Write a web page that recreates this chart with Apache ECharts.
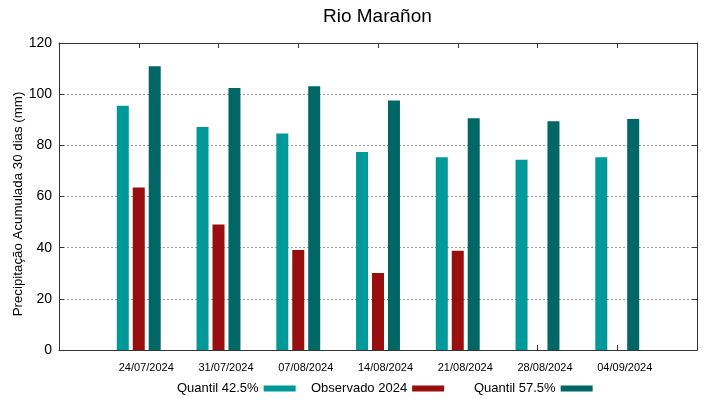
<!DOCTYPE html>
<html>
<head>
<meta charset="utf-8">
<script src="https://cdn.jsdelivr.net/npm/echarts@6/dist/echarts.min.js"></script>
<style>
  html, body { margin: 0; padding: 0; background: #fff; }
  #chart { width: 719px; height: 399px; }
</style>
</head>
<body>
<div id="chart"></div>
<script>
// datas (empty slots on both ends leave the gap gnuplot puts there)
const dates = ['', '24/07/2024', '31/07/2024', '07/08/2024', '14/08/2024', '21/08/2024', '28/08/2024', '04/09/2024', ''];
const quantil425 = [null, 95.5, 87.2, 84.6, 77.4, 75.3, 74.4, 75.3, null];
const observado = [null, 63.5, 49.1, 39.1, 30.1, 38.8, null, null, null];
const quantil575 = [null, 110.9, 102.4, 103.1, 97.5, 90.6, 89.4, 90.3, null];
const yTicks = [0, 20, 40, 60, 80, 100, 120];
const names = ['Quantil 42.5%', 'Observado 2024', 'Quantil 57.5%'];

const font = 'Liberation Sans';
const chart = echarts.init(document.getElementById('chart'));

const tickInside = { show: true, inside: true, length: 5, lineStyle: { color: '#333' } };
const frameLine = { show: true, onZero: false, lineStyle: { color: '#333', width: 1 } };

// gnuplot puts the legend entries in fixed columns
const legendAt = (name, x) => ({
    data: [name],
    left: x,
    top: 377,
    align: 'right',
    icon: 'rect',
    itemWidth: 32,
    itemHeight: 6,
    textStyle: { fontFamily: font, fontSize: 13, color: '#000' }
});

chart.setOption({
    animation: false,
    textStyle: { fontFamily: font },
    title: {
        text: 'Rio Marañon',
        left: 318,
        top: 2,
        textStyle: { fontFamily: font, fontSize: 19, fontWeight: 'normal', color: '#000' }
    },
    grid: { left: 59, right: 22, top: 43, bottom: 49, outerBoundsMode: 'none' },
    legend: [
        legendAt(names[0], 172),
        legendAt(names[1], 306),
        legendAt(names[2], 469)
    ],
    xAxis: [
        {
            type: 'category',
            data: dates,
            boundaryGap: false,
            axisLine: frameLine,
            axisTick: Object.assign({ interval: 0 }, tickInside),
            // labels sit a bit right of the tick, like in the original
            axisLabel: { interval: 0, fontSize: 11, color: '#000', margin: 12, padding: [0, 0, 0, 15] },
            splitLine: { show: false }
        },
        {
            type: 'category',
            data: dates,
            position: 'top',
            boundaryGap: false,
            axisLine: frameLine,
            axisTick: Object.assign({ interval: 0 }, tickInside),
            axisLabel: { show: false },
            splitLine: { show: false }
        }
    ],
    yAxis: [
        {
            type: 'value',
            min: yTicks[0],
            max: yTicks[yTicks.length - 1],
            interval: 20,
            name: 'Precipitação Acumulada 30 dias (mm)',
            nameLocation: 'middle',
            nameGap: 34,
            nameMoveOverlap: false,
            nameTextStyle: { fontFamily: font, fontSize: 13.3, color: '#000', padding: [0, 15, 0, 0] },
            axisLine: frameLine,
            axisTick: tickInside,
            axisLabel: { fontSize: 14, color: '#000', margin: 7 },
            splitLine: { show: true, lineStyle: { color: '#999', type: [2, 2], width: 1 } }
        },
        {
            type: 'value',
            min: yTicks[0],
            max: yTicks[yTicks.length - 1],
            interval: 20,
            position: 'right',
            axisLine: frameLine,
            axisTick: tickInside,
            axisLabel: { show: false },
            splitLine: { show: false }
        }
    ],
    series: [
        {
            name: names[0],
            type: 'bar',
            data: quantil425,
            barWidth: 12,
            barGap: '33%',
            itemStyle: { color: '#009999' }
        },
        {
            name: names[1],
            type: 'bar',
            data: observado,
            barWidth: 12,
            barGap: '33%',
            itemStyle: { color: '#990e0e' }
        },
        {
            name: names[2],
            type: 'bar',
            data: quantil575,
            barWidth: 12,
            barGap: '33%',
            itemStyle: { color: '#006666' }
        }
    ]
});
</script>
</body>
</html>
